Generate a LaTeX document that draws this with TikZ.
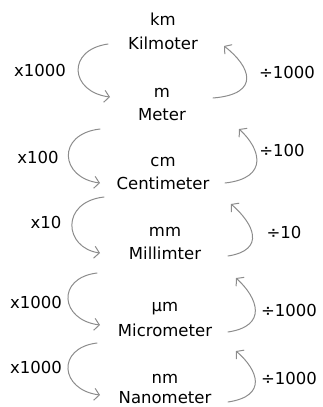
\documentclass[tikz,border=0pt]{standalone}
\usepackage{fontspec}
\setmainfont{DejaVu Sans}
\usetikzlibrary{arrows.meta}
\definecolor{arcgray}{HTML}{8C8C8C}
\tikzset{
  unit/.style={inner sep=0pt, font=\fontsize{16.5}{18}\selectfont, text=black},
  factor/.style={inner sep=0pt, font=\fontsize{16.5}{18}\selectfont, text=black},
  conv/.style={draw=arcgray, line width=1pt, line cap=round,
    -{Straight Barb[length=5pt,width=12pt,line width=1pt]}},
}
\begin{document}
\begin{tikzpicture}[x=1pt,y=-1pt]
\useasboundingbox (0,0) rectangle (323,407);
% units
\node[unit] (km) at (163,19) {km};
\node[unit] (kmn) at (163,43) {Kilmoter};
\node[unit] (m) at (162,93) {m};
\node[unit] (mn) at (162,115) {Meter};
\node[unit] (cm) at (163,162) {cm};
\node[unit] (cmn) at (163,183) {Centimeter};
\node[unit] (mm) at (165,232) {mm};
\node[unit] (mmn) at (165,253) {Millimter};
\node[unit] (um) at (165,309) {µm};
\node[unit] (umn) at (165,330) {Micrometer};
\node[unit] (nm) at (165,379) {nm};
\node[unit] (nmn) at (165,398) {Nanometer};
% factors
\node[factor] (f1) at (40,70) {x1000};
\node[factor] (f2) at (38,157) {x100};
\node[factor] (f3) at (46,222) {x10};
\node[factor] (f4) at (36,302) {x1000};
\node[factor] (f5) at (36,367) {x1000};
\node[factor] (d1) at (287,72) {÷1000};
\node[factor] (d2) at (282,150) {÷100};
\node[factor] (d3) at (284,232) {÷10};
\node[factor] (d4) at (289,310) {÷1000};
\node[factor] (d5) at (289,378) {÷1000};
% arc end points
\coordinate (l1a) at (108,44); \coordinate (l1b) at (110,97);
\coordinate (l2a) at (100,129); \coordinate (l2b) at (100,183);
\coordinate (l3a) at (104,197); \coordinate (l3b) at (100,253);
\coordinate (l4a) at (97,273); \coordinate (l4b) at (100,325);
\coordinate (l5a) at (97,343); \coordinate (l5b) at (100,395);
\coordinate (r1a) at (213,98); \coordinate (r1b) at (224,46);
\coordinate (r2a) at (225,183); \coordinate (r2b) at (239,129);
\coordinate (r3a) at (228,256); \coordinate (r3b) at (231,204);
\coordinate (r4a) at (228,332); \coordinate (r4b) at (236,278);
\coordinate (r5a) at (228,402); \coordinate (r5b) at (236,351);
% left arcs
\draw[conv] (l1a) .. controls (66,50) and (70,92) .. (l1b);
\draw[conv] (l2a) .. controls (56,134) and (60,178) .. (l2b);
\draw[conv] (l3a) .. controls (60,202) and (64,248) .. (l3b);
\draw[conv] (l4a) .. controls (56,278) and (60,320) .. (l4b);
\draw[conv] (l5a) .. controls (56,348) and (60,390) .. (l5b);
% right arcs
\draw[conv] (r1a) .. controls (262,94) and (250,66) .. (r1b);
\draw[conv] (r2a) .. controls (270,178) and (260,148) .. (r2b);
\draw[conv] (r3a) .. controls (266,250) and (254,224) .. (r3b);
\draw[conv] (r4a) .. controls (268,326) and (258,298) .. (r4b);
\draw[conv] (r5a) .. controls (268,396) and (258,370) .. (r5b);
\end{tikzpicture}
\end{document}
